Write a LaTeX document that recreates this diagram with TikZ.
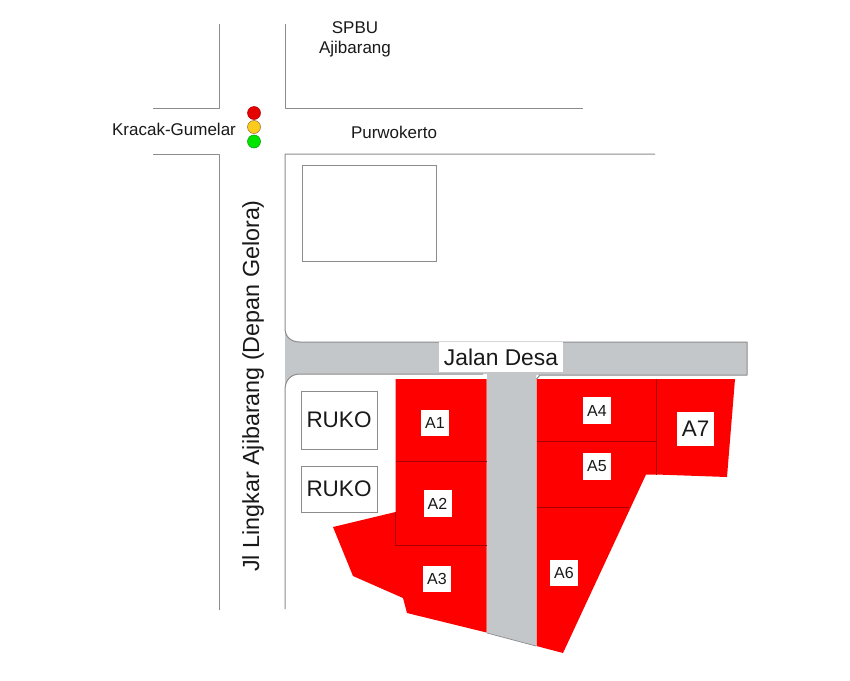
\documentclass[tikz,border=0pt]{standalone}
\usepackage{fontspec}
\setmainfont{Liberation Sans}
\newcommand{\fs}[1]{\fontsize{#1pt}{#1pt}\selectfont}
\definecolor{roadgrey}{HTML}{C4C7C9}
\definecolor{lotred}{HTML}{FF0000}
\definecolor{lotline}{HTML}{A80000}
\definecolor{wallgrey}{HTML}{8C8C8C}
\tikzset{
  x=1pt,y=-1pt,
  wall/.style={draw=wallgrey,line width=1pt,line join=round},
  roadfill/.style={fill=roadgrey},
  lotfill/.style={fill=lotred},
  divider/.style={draw=lotline,line width=0.6pt},
  plain/.style={draw=wallgrey,fill=white,line width=0.9pt},
  ruko/.style={plain,minimum width=76pt,inner sep=0pt,font=\fs{22.5},text=black!90},
  tag/.style={fill=white,inner sep=0pt,align=center,text=black!90},
  txt/.style={inner sep=0pt,align=center,text=black!90},
  lamp/.style={circle,minimum size=13pt,inner sep=0pt,line width=0.5pt},
}
\begin{document}
\begin{tikzpicture}
\useasboundingbox[fill=white] (0,0) rectangle (850,680);
% road fill
\fill[roadfill] (285,328) .. controls (285,337) and (291,342) .. (300,342) -- (747,342) -- (747,375) -- (536,375) -- (536,646) -- (487,633) -- (487,374) -- (300,374) .. controls (291,374) and (285,380) .. (285,390) -- cycle;
% street lines
\draw[wall] (219,24) -- (219,108) -- (153,108);
\draw[wall] (285,24) -- (285,108) -- (583,108);
\draw[wall] (153,154) -- (219,154) -- (219,610);
\draw[wall] (655,154) -- (285,154) -- (285,328) .. controls (285,337) and (291,342) .. (300,342) -- (747,342) -- (747,375) -- (540,375) -- (536.5,379);
\draw[wall] (483,374) -- (300,374) .. controls (291,374) and (285,380) .. (285,390) -- (285,609);
\draw[wallgrey,line width=0.7pt] (487,633) -- (536,646);
% building and shops
\draw[plain] (302,165) rectangle (436,261);
\node[ruko,minimum height=58pt] (ruko1) at (339,420) {RUKO};
\node[ruko,minimum height=46pt] (ruko2) at (339,489) {RUKO};
% lots: fills
\fill[lotfill] (395.5,379) -- (486.5,379) -- (486.5,632.5) -- (407,613) -- (403,598) -- (353,576) -- (333,527) -- (395.5,512) -- cycle;
\fill[lotfill] (536.5,379) -- (735,379) -- (727,477) -- (656,474.5) -- (646,474.5) -- (563,653) -- (536.5,646) -- cycle;
% lots: dividers
\draw[divider] (395.5,461) -- (486.5,461);
\draw[divider] (395.5,512) -- (395.5,545) -- (486.5,545);
\draw[divider] (536.5,441) -- (656,441);
\draw[divider] (536.5,507) -- (629,507);
\draw[divider] (656,379) -- (656,474.5);
% lot labels
\node[tag,minimum width=28pt,minimum height=26pt,font=\fs{16}] (a1) at (435,423) {A1};
\node[tag,minimum width=28pt,minimum height=27pt,font=\fs{16}] (a2) at (437.5,503.5) {A2};
\node[tag,minimum width=28pt,minimum height=26pt,font=\fs{16}] (a3) at (437,579) {A3};
\node[tag,minimum width=28pt,minimum height=27pt,font=\fs{16}] (a4) at (597,410.5) {A4};
\node[tag,minimum width=28pt,minimum height=27pt,font=\fs{16}] (a5) at (597,466.5) {A5};
\node[tag,minimum width=28pt,minimum height=26pt,font=\fs{16}] (a6) at (564,573) {A6};
\node[tag,minimum width=37pt,minimum height=34pt,font=\fs{22.5}] (a7) at (695.5,429) {A7};
% road labels
\node[tag,minimum width=124pt,minimum height=30pt,font=\fs{22.8}] (desa) at (501,357) {Jalan Desa};
\node[txt,rotate=90,font=\fs{23.3}] (lingkar) at (253,386) {Jl Lingkar Ajibarang (Depan Gelora)};
\node[txt,font=\fs{17}] (spbu) at (355,28) {SPBU};
\node[txt,font=\fs{17}] (aji) at (355,49) {Ajibarang};
\node[txt,font=\fs{17}] (pwt) at (394,132) {Purwokerto};
\node[txt,font=\fs{17}] (krk) at (174,129) {Kracak-Gumelar};
% traffic light
\node[lamp,fill=red!90!black,draw=red!70!black] (lr) at (254,113) {};
\node[lamp,fill=yellow!60!orange!90!white,draw=brown!80!black] (ly) at (254,127) {};
\node[lamp,fill=green!90!black,draw=green!60!black] (lg) at (254,141.5) {};
\end{tikzpicture}
\end{document}
